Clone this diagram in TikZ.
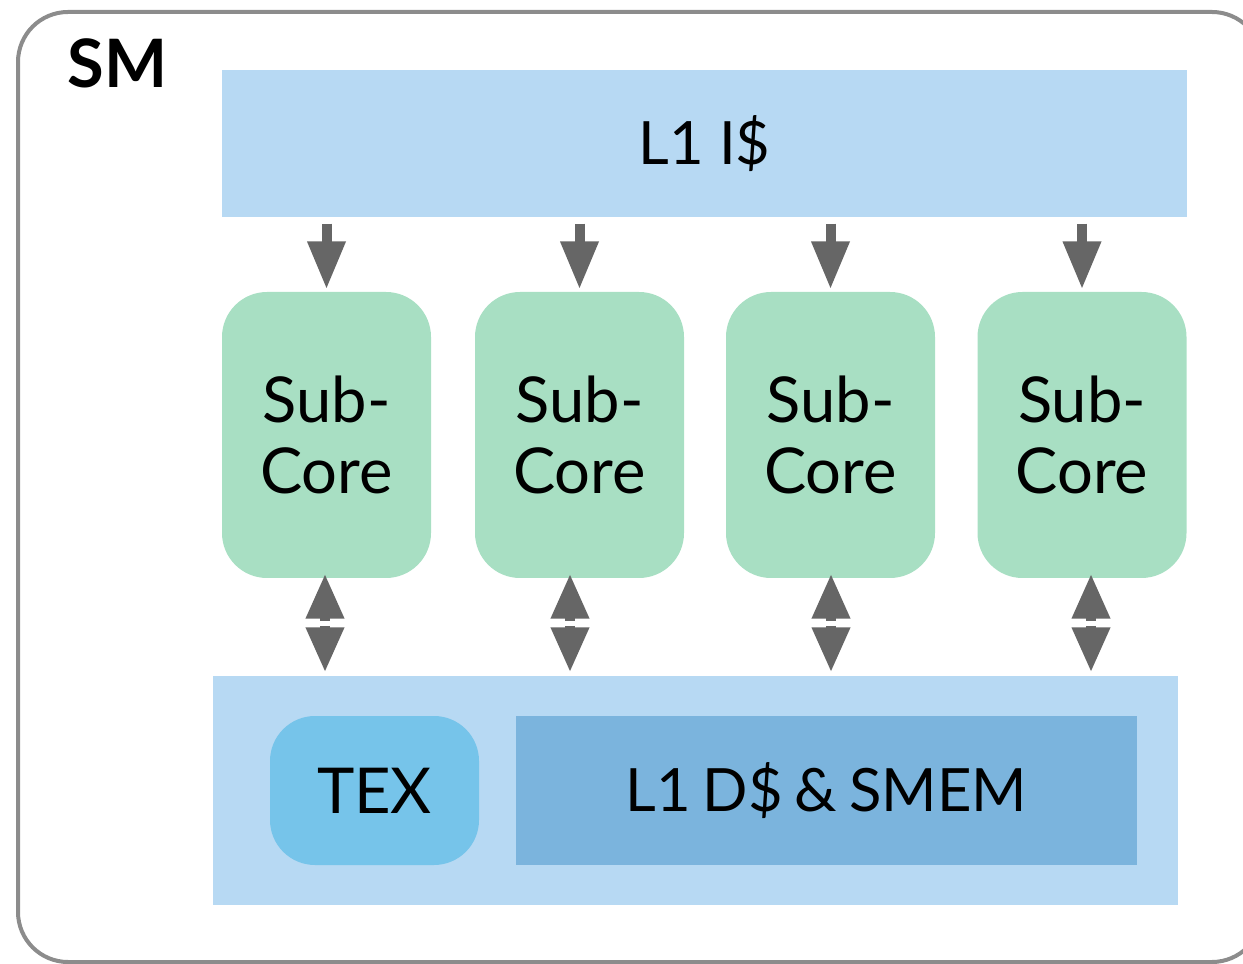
\documentclass[tikz,border=0pt]{standalone}
\usepackage{fontspec}
\setmainfont{Lato}
\usepackage{tikz}
\usetikzlibrary{arrows.meta, positioning}

\definecolor{cacheblue}{HTML}{B7D9F3}
\definecolor{coregreen}{HTML}{A8DFC3}
\definecolor{texblue}{HTML}{76C4EA}
\definecolor{dcacheblue}{HTML}{7BB4DD}
\definecolor{arrowgray}{HTML}{666666}
\definecolor{framegray}{HTML}{8C8C8C}

\begin{document}
\begin{tikzpicture}
    [
        x=0.1mm, y=-0.1mm,
        font=\fontsize{18}{20}\selectfont,
        frame/.style={draw=framegray, line width=0.4mm, rounded corners=5mm},
        cache/.style={fill=cacheblue, inner sep=0pt, minimum width=96.5mm},
        subcore/.style={fill=coregreen, rounded corners=4.5mm, inner sep=0pt,
            minimum width=20.9mm, minimum height=28.6mm, align=center,
            font=\fontsize{18}{20}\selectfont},
        feed/.style={draw=arrowgray, line width=1mm,
            -{Triangle[length=4.8mm, width=3.6mm]},
            shorten <=0.6mm, shorten >=0.2mm},
        half/.style={draw=arrowgray, line width=1mm,
            -{Triangle[length=4.5mm, width=3.6mm]}},
    ]
    \useasboundingbox (0,0) rectangle (1243,964);
    \draw[frame] (18,12) rectangle (1262,962);
    \node[anchor=base west, font=\fontsize{19}{21}\selectfont\bfseries] (sm) at (55,88) {SM};

    % caches
    \node[cache, minimum height=14.7mm, font=\fontsize{17}{19}\selectfont] (l1i) at (704.5,143.5) {L1 I\$};
    \node[cache, minimum height=22.9mm] (mem) at (695.5,790.5) {};
    \node[fill=texblue, rounded corners=4.5mm, inner sep=0pt,
        minimum width=20.9mm, minimum height=14.9mm] (tex) at (374.5,790.5) {TEX};
    \node[fill=dcacheblue, inner sep=0pt, minimum width=62.1mm, minimum height=14.9mm,
        font=\fontsize{17}{19}\selectfont] (l1d) at (826.5,790.5)
        {L1\hspace{0.2em}D\$\hspace{0.2em}\&\hspace{0.2em}SMEM};

    % sub-cores
    \node[subcore] (sc1) at (326.5,435) {Sub-\\Core};
    \node[subcore] (sc2) at (579.5,435) {Sub-\\Core};
    \node[subcore] (sc3) at (830.5,435) {Sub-\\Core};
    \node[subcore] (sc4) at (1082,435) {Sub-\\Core};

    % instruction fetch
    \draw[feed] (l1i.south -| sc1.north) -- (sc1.north);
    \draw[feed] (l1i.south -| sc2.north) -- (sc2.north);
    \draw[feed] (l1i.south -| sc3.north) -- (sc3.north);
    \draw[feed] (l1i.south -| sc4.north) -- (sc4.north);

    % load/store
    \coordinate (m1) at (325,623.5);
    \coordinate (m2) at (570,623.5);
    \coordinate (m3) at (831,623.5);
    \coordinate (m4) at (1091,623.5);
    \draw[half, shorten <=0.25mm, shorten >=-0.5mm] (m1) -- (sc1.south -| m1);
    \draw[half, shorten <=0.25mm, shorten >=0.3mm] (m1) -- (mem.north -| m1);
    \draw[half, shorten <=0.25mm, shorten >=-0.5mm] (m2) -- (sc2.south -| m2);
    \draw[half, shorten <=0.25mm, shorten >=0.3mm] (m2) -- (mem.north -| m2);
    \draw[half, shorten <=0.25mm, shorten >=-0.5mm] (m3) -- (sc3.south -| m3);
    \draw[half, shorten <=0.25mm, shorten >=0.3mm] (m3) -- (mem.north -| m3);
    \draw[half, shorten <=0.25mm, shorten >=-0.5mm] (m4) -- (sc4.south -| m4);
    \draw[half, shorten <=0.25mm, shorten >=0.3mm] (m4) -- (mem.north -| m4);
\end{tikzpicture}
\end{document}
